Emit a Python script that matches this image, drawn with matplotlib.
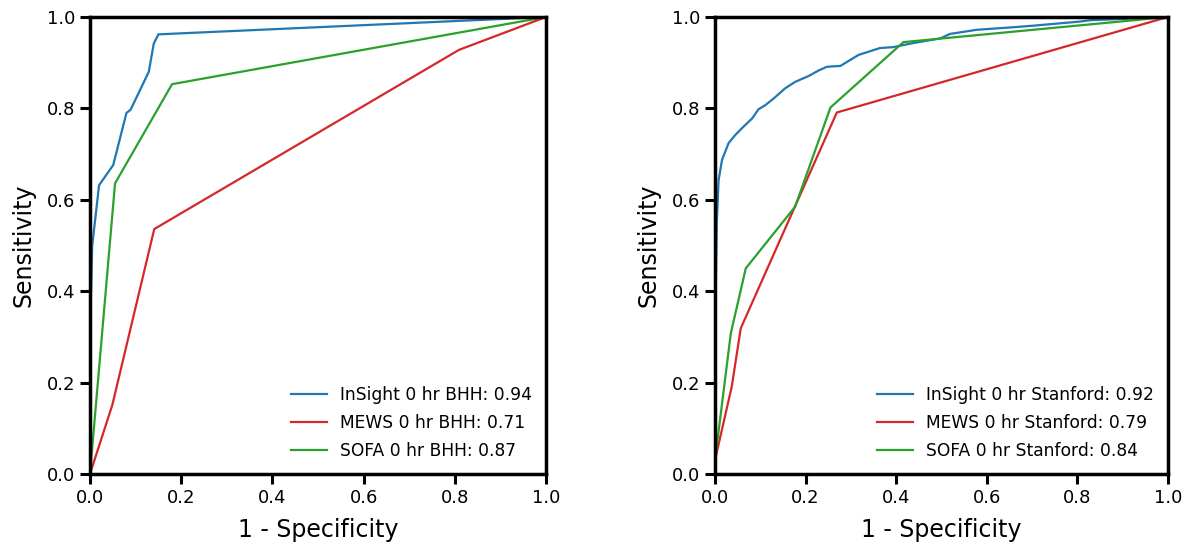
import matplotlib.pyplot as plt

# Left panel (BHH) ROC points
bhh_insight_fpr = [0.0, 0.0, 0.005, 0.02, 0.051, 0.08, 0.089, 0.129, 0.14, 0.15, 1.0]
bhh_insight_tpr = [0.0, 0.30, 0.50, 0.632, 0.676, 0.79, 0.797, 0.88, 0.942, 0.962, 1.0]
bhh_mews_fpr = [0.0, 0.049, 0.141, 0.809, 1.0]
bhh_mews_tpr = [0.0, 0.151, 0.536, 0.928, 1.0]
bhh_sofa_fpr = [0.0, 0.055, 0.18, 1.0]
bhh_sofa_tpr = [0.0, 0.636, 0.853, 1.0]

# Right panel (Stanford) ROC points
stf_insight_fpr = [0.0, 0.0, 0.004, 0.008, 0.0155, 0.030, 0.045, 0.063, 0.082, 0.096,
                   0.111, 0.130, 0.155, 0.177, 0.207, 0.229, 0.247, 0.277, 0.292,
                   0.317, 0.339, 0.364, 0.393, 0.438, 0.497, 0.519, 0.578, 0.651,
                   0.703, 0.806, 0.828, 0.909, 1.0]
stf_insight_tpr = [0.0, 0.30, 0.55, 0.643, 0.687, 0.724, 0.742, 0.760, 0.778, 0.798,
                   0.807, 0.822, 0.844, 0.858, 0.871, 0.883, 0.891, 0.893, 0.902,
                   0.917, 0.924, 0.932, 0.934, 0.943, 0.953, 0.963, 0.972, 0.977,
                   0.981, 0.990, 0.993, 0.996, 1.0]
stf_mews_fpr = [0.0, 0.037, 0.057, 0.269, 1.0]
stf_mews_tpr = [0.03, 0.191, 0.319, 0.791, 1.0]
stf_sofa_fpr = [0.0, 0.035, 0.068, 0.177, 0.255, 0.416, 1.0]
stf_sofa_tpr = [0.03, 0.308, 0.45, 0.585, 0.802, 0.945, 1.0]

labels_bhh = ['InSight 0 hr BHH: 0.94', 'MEWS 0 hr BHH: 0.71', 'SOFA 0 hr BHH: 0.87']
labels_stf = ['InSight 0 hr Stanford: 0.92', 'MEWS 0 hr Stanford: 0.79',
              'SOFA 0 hr Stanford: 0.84']
ticks = [0.0, 0.2, 0.4, 0.6, 0.8, 1.0]

fig = plt.figure(figsize=(11.93, 5.48), dpi=100, facecolor='white')
ax1 = fig.add_axes([0.0754, 0.135, 0.3823, 0.834])
ax2 = fig.add_axes([0.5993, 0.135, 0.3797, 0.834])

panels = [
    (ax1, [(bhh_insight_fpr, bhh_insight_tpr), (bhh_mews_fpr, bhh_mews_tpr),
           (bhh_sofa_fpr, bhh_sofa_tpr)], labels_bhh),
    (ax2, [(stf_insight_fpr, stf_insight_tpr), (stf_mews_fpr, stf_mews_tpr),
           (stf_sofa_fpr, stf_sofa_tpr)], labels_stf),
]
colors = ['tab:blue', 'tab:red', 'tab:green']

for ax, curves, labels in panels:
    for (x, y), lab, c in zip(curves, labels, colors):
        ax.plot(x, y, color=c, linewidth=1.6, label=lab)
    ax.set_xlim(0, 1)
    ax.set_ylim(0, 1)
    ax.set_xticks(ticks)
    ax.set_yticks(ticks)
    ax.set_xticklabels([f'{t:.1f}' for t in ticks])
    ax.set_yticklabels([f'{t:.1f}' for t in ticks])
    ax.tick_params(axis='both', labelsize=13, width=2.2, length=7)
    for sp in ax.spines.values():
        sp.set_linewidth(2.5)
    ax.set_xlabel('1 - Specificity', fontsize=17, labelpad=8)
    ax.set_ylabel('Sensitivity', fontsize=17, labelpad=8)
    ax.legend(loc='lower right', fontsize=12.3, frameon=False,
              handlelength=2.1, labelspacing=0.6, borderaxespad=0.4)

fig.savefig('out.png', dpi=100, facecolor='white')
